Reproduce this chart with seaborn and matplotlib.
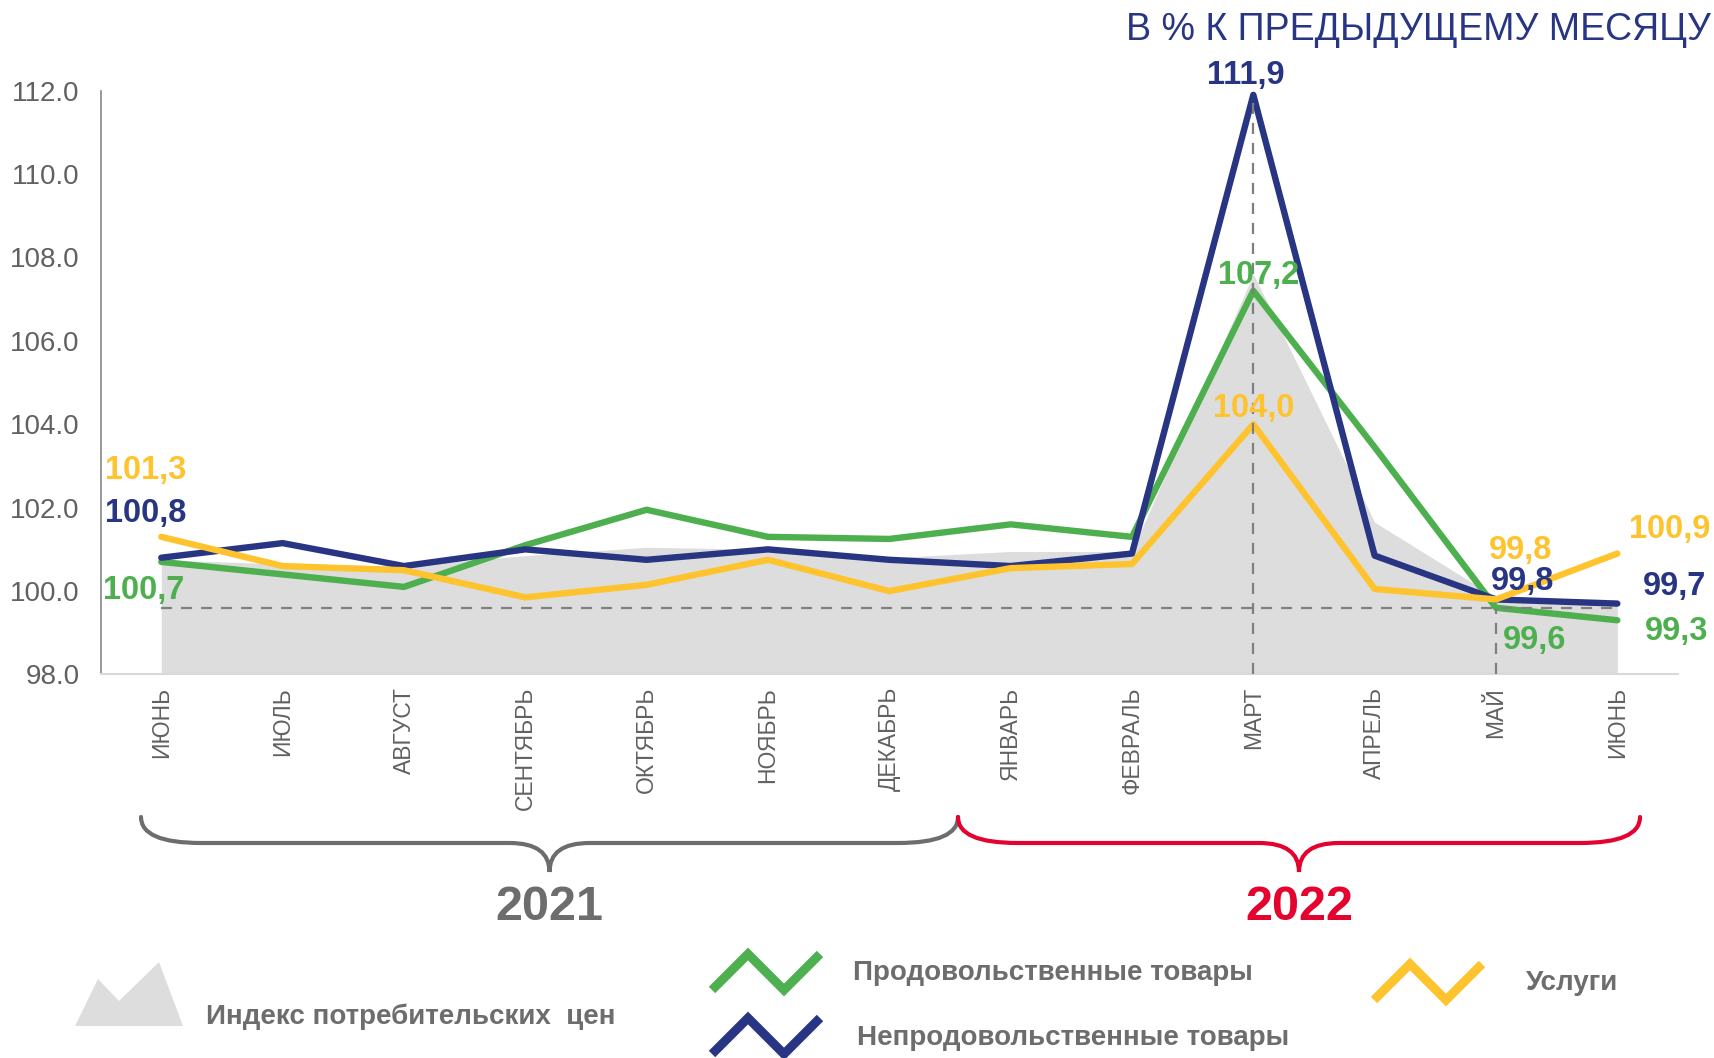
import pandas as pd
import matplotlib.pyplot as plt
import seaborn as sns
from matplotlib.path import Path
from matplotlib.patches import PathPatch, Polygon

# =========================
# DATA
# =========================
months = ["ИЮНЬ", "ИЮЛЬ", "АВГУСТ", "СЕНТЯБРЬ", "ОКТЯБРЬ", "НОЯБРЬ", "ДЕКАБРЬ",
          "ЯНВАРЬ", "ФЕВРАЛЬ", "МАРТ", "АПРЕЛЬ", "МАЙ", "ИЮНЬ"]
cpi = [100.75, 100.65, 100.6, 100.85, 101.05, 101.0, 100.8, 100.95, 100.95,
       107.6, 101.65, 99.85, 99.65]
food = [100.7, 100.4, 100.1, 101.1, 101.95, 101.3, 101.25, 101.6, 101.3,
        107.2, 103.45, 99.6, 99.3]
nonfood = [100.8, 101.15, 100.6, 101.0, 100.75, 101.0, 100.75, 100.6, 100.9,
           111.9, 100.85, 99.8, 99.7]
services = [101.3, 100.6, 100.5, 99.85, 100.15, 100.75, 100.0, 100.55, 100.65,
            104.0, 100.05, 99.8, 100.9]
yticks = [98, 100, 102, 104, 106, 108, 110, 112]

GREEN = "#4DAF4E"
NAVY = "#283583"
YELLOW = "#FEC32D"
AREA = "#DDDDDD"
GREY_TXT = "#616161"
DARK_GREY = "#6D6D6D"
RED = "#E4032E"

sns.set_style("white")
FONT = ["Liberation Sans", "DejaVu Sans"]
plt.rcParams["font.family"] = FONT

x = list(range(len(months)))
df = pd.DataFrame({
    "x": x * 3,
    "value": food + nonfood + services,
    "series": ["food"] * 13 + ["nonfood"] * 13 + ["services"] * 13,
})

fig = plt.figure(figsize=(17.14, 10.58), dpi=100)
ax = fig.add_axes([0.0587, 0.3625, 0.9203, 0.5518])

# grey CPI area
ax.fill_between(x, cpi, 98, color=AREA, linewidth=0, zorder=1)

sns.lineplot(data=df, x="x", y="value", hue="series",
             hue_order=["food", "nonfood", "services"],
             palette={"food": GREEN, "nonfood": NAVY, "services": YELLOW},
             linewidth=4.6, legend=False, ax=ax, zorder=3,
             solid_capstyle="round", solid_joinstyle="round")

# dashed guide lines
dash = dict(color="#7F7F7F", lw=1.6, linestyle=(0, (5, 4)), zorder=5)
ax.plot([x[0], x[-1]], [food[11], food[11]], **dash)
ax.plot([x[9], x[9]], [98, nonfood[9]], **dash)
ax.plot([x[11], x[11]], [98, food[11]], **dash)

ax.set_xlim(-0.5, 12.5)
ax.set_ylim(98, 112)
ax.set_yticks(yticks)
ax.set_yticklabels([f"{v:.1f}" for v in yticks], color=GREY_TXT, fontsize=20)
ax.set_xticks(x)
ax.set_xticklabels(months, rotation=90, va="top", ha="center",
                   color=GREY_TXT, fontsize=16.5)
ax.tick_params(axis="x", length=0, pad=9)
ax.tick_params(axis="y", length=0, pad=15)
ax.set_xlabel("")
ax.set_ylabel("")
sns.despine(ax=ax, top=True, right=True)
ax.spines["left"].set_color("#868686")
ax.spines["left"].set_linewidth(1.2)
ax.spines["bottom"].set_color("#D9D9D9")
ax.spines["bottom"].set_linewidth(1.5)

# value labels: (series, colour, index, dx, dy)
labels = [
    (services, YELLOW, 0, -11, 48), (nonfood, NAVY, 0, -11, 31.6),
    (food, GREEN, 0, -12.6, -20.4),
    (nonfood, NAVY, 9, -5.3, 13.6), (food, GREEN, 9, 3.5, 11),
    (services, YELLOW, 9, 0, 11),
    (services, YELLOW, 11, 17.6, 35), (nonfood, NAVY, 11, 19.3, 13.2),
    (food, GREEN, 11, 27.6, -23.4),
    (services, YELLOW, 12, 38, 17), (nonfood, NAVY, 12, 41.3, 12.2),
    (food, GREEN, 12, 42.8, -8.2),
]
for vals, col, i, dx, dy in labels:
    ax.annotate(f"{vals[i]:.1f}".replace(".", ","), xy=(i, vals[i]),
                xytext=(dx, dy), textcoords="offset points",
                ha="center", va="center", fontsize=23.5, fontweight="bold",
                color=col, zorder=6, annotation_clip=False)

# =========================
# OVERLAY (pixel coords)
# =========================
ov = fig.add_axes([0, 0, 1, 1])
ov.set_xlim(0, 1714)
ov.set_ylim(1058, 0)
ov.set_axis_off()


def brace(x0, x1, color, ytop=817, ymid=843, ytip=872, r=60, rc=40):
    xc = (x0 + x1) / 2
    verts = [(x0, ytop), (x0, ymid), (x0 + r, ymid),
             (xc - rc, ymid), (xc, ymid), (xc, ytip),
             (xc, ymid), (xc + rc, ymid),
             (x1 - r, ymid), (x1, ymid), (x1, ytop)]
    codes = [Path.MOVETO, Path.CURVE3, Path.CURVE3,
             Path.LINETO, Path.CURVE3, Path.CURVE3,
             Path.CURVE3, Path.CURVE3,
             Path.LINETO, Path.CURVE3, Path.CURVE3]
    ov.add_patch(PathPatch(Path(verts, codes), fill=False, edgecolor=color,
                           lw=3, capstyle="round"))
    return xc


c21 = brace(141, 958, DARK_GREY)
c22 = brace(958, 1640, RED)
ov.text(c21, 908, "2021", ha="center", va="center", fontsize=35,
        fontweight="bold", color=DARK_GREY)
ov.text(c22, 908, "2022", ha="center", va="center", fontsize=35,
        fontweight="bold", color=RED)

fig.text(0.998, 1 - 30 / 1058, "В % К ПРЕДЫДУЩЕМУ МЕСЯЦУ", ha="right",
         va="center", fontsize=27, color=NAVY)

# legend
ov.add_patch(Polygon([(75, 1026), (98, 979), (119, 1001), (159, 962),
                      (183, 1026)], closed=True, color=AREA, lw=0))


def zigzag(x0, ybot, color):
    w, h = 36, 36
    ov.plot([x0, x0 + w, x0 + 2 * w, x0 + 3 * w],
            [ybot, ybot - h, ybot, ybot - h], color=color, lw=6.5,
            solid_joinstyle="miter", solid_capstyle="butt")


zigzag(712, 990, GREEN)
zigzag(712, 1054, NAVY)
zigzag(1374, 1000, YELLOW)

leg = dict(ha="left", va="center", fontsize=20, fontweight="bold",
           color=DARK_GREY)
ov.text(206, 1017, "Индекс потребительских  цен", **leg)
ov.text(853, 973, "Продовольственные товары", **leg)
ov.text(857, 1038, "Непродовольственные товары", **leg)
ov.text(1526, 983, "Услуги", **leg)

fig.savefig("out.png", dpi=100)
